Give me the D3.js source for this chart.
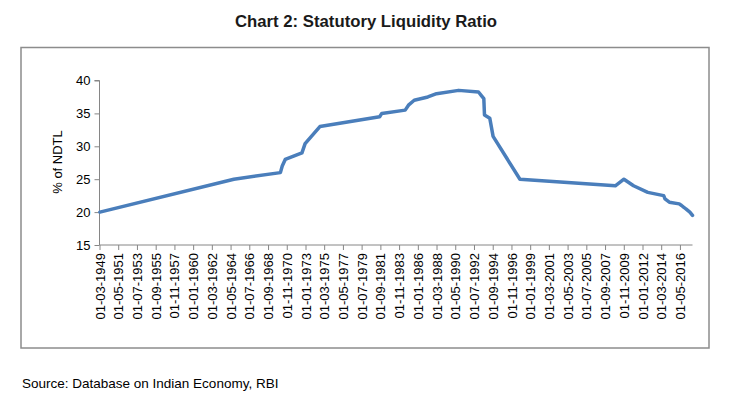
<!DOCTYPE html>
<html lang="en">
  <head>
    <meta charset="utf-8">
    <title>Chart 2: Statutory Liquidity Ratio</title>
    <style>
      body { margin: 0; background: #fff; }
      text { font-family: "Liberation Sans", Arial, sans-serif; }
    </style>
  </head>
  <body>
    <svg width="729" height="398"></svg>
    <script src="https://cdn.jsdelivr.net/npm/d3@7"></script>
    <script>
      // SLR change dates and values (% of NDTL)
      const dates = [
        '1949-03-16', '1964-09-16', '1970-02-05', '1970-04-24', '1970-08-28',
        '1972-08-04', '1972-12-15', '1974-09-01', '1981-08-01', '1981-10-30',
        '1984-07-15', '1984-12-01', '1985-08-01', '1987-03-01', '1988-03-01',
        '1990-09-22', '1993-01-09', '1993-05-01', '1993-08-21', '1993-09-18',
        '1994-05-01', '1994-09-17', '1997-10-25', '2008-11-08', '2009-11-07',
        '2010-12-18', '2012-08-11', '2014-06-14', '2014-08-09', '2015-02-07',
        '2016-04-02', '2016-07-09', '2016-10-01', '2017-01-07', '2017-06-24',
        '2017-10-14'
      ];
      const slr = [
        20, 25, 26, 27, 28,
        29, 30.4, 33, 34.5, 35,
        35.5, 36.25, 37, 37.5, 38,
        38.5, 38.25, 37.75, 37.25, 34.75,
        34.25, 31.5, 25, 24, 25,
        24, 23, 22.5, 22, 21.5,
        21.25, 21, 20.75, 20.5, 20,
        19.5
      ];
      const xTickLabels = [
        '01-03-1949', '01-05-1951', '01-07-1953', '01-09-1955', '01-11-1957',
        '01-01-1960', '01-03-1962', '01-05-1964', '01-07-1966', '01-09-1968',
        '01-11-1970', '01-01-1973', '01-03-1975', '01-05-1977', '01-07-1979',
        '01-09-1981', '01-11-1983', '01-01-1986', '01-03-1988', '01-05-1990',
        '01-07-1992', '01-09-1994', '01-11-1996', '01-01-1999', '01-03-2001',
        '01-05-2003', '01-07-2005', '01-09-2007', '01-11-2009', '01-01-2012',
        '01-03-2014', '01-05-2016'
      ];
      const yTicks = [15, 20, 25, 30, 35, 40];

      const svg = d3.select('svg');
      const axis_color = '#868686';

      const parse_iso = d3.timeParse('%Y-%m-%d');
      const parse_label = d3.timeParse('%d-%m-%Y');
      const data = dates.map((d, i) => ({date: parse_iso(d), value: slr[i]}));

      const plot = {left: 99.5, right: 692.5, top: 80.5, bottom: 245};

      const x_scale = d3.scaleTime()
        .domain([parse_label('01-03-1949'), parse_iso('2017-10-14')])
        .range([plot.left, plot.right]);

      const y_scale = d3.scaleLinear()
        .domain([15, 40])
        .range([plot.bottom, plot.top]);

      // outer frame
      svg.append('rect')
        .attr('x', 21).attr('y', 47.5)
        .attr('width', 688).attr('height', 300.5)
        .attr('fill', 'none')
        .attr('stroke', '#8c8c8c')
        .attr('stroke-width', 1.5);

      // title
      svg.append('text')
        .attr('x', 366).attr('y', 27)
        .attr('text-anchor', 'middle')
        .attr('font-size', '16.5px')
        .attr('font-weight', 'bold')
        .attr('fill', '#1a1a1a')
        .attr('textLength', 262)
        .attr('lengthAdjust', 'spacingAndGlyphs')
        .text('Chart 2: Statutory Liquidity Ratio');

      // y axis
      const yAxis = d3.axisLeft(y_scale)
        .tickValues(yTicks)
        .tickSize(5)
        .tickPadding(4)
        .tickFormat(d3.format('d'));
      const y_axis_g = svg.append('g')
        .attr('transform', `translate(${plot.left},0)`)
        .call(yAxis);
      y_axis_g.select('.domain').attr('stroke', axis_color).attr('d', `M-5,${plot.top}H0V${plot.bottom}`);
      y_axis_g.selectAll('.tick line').attr('stroke', axis_color);
      y_axis_g.selectAll('.tick text')
        .attr('font-size', '13px')
        .attr('fill', '#000')
        .style('font-family', '"Liberation Sans", Arial, sans-serif');

      // x axis
      const xAxis = d3.axisBottom(x_scale)
        .tickValues(xTickLabels.map(parse_label))
        .tickSize(5)
        .tickFormat(d3.timeFormat('%d-%m-%Y'));
      const x_axis_g = svg.append('g')
        .attr('transform', `translate(0,${plot.bottom})`)
        .call(xAxis);
      x_axis_g.select('.domain').attr('stroke', axis_color).attr('d', `M${plot.left},0H${plot.right}`);
      x_axis_g.selectAll('.tick line').attr('stroke', axis_color);
      x_axis_g.selectAll('.tick text')
        .attr('font-size', '13px')
        .attr('fill', '#000')
        .style('font-family', '"Liberation Sans", Arial, sans-serif')
        .attr('text-anchor', 'end')
        .attr('dy', '0.35em')
        .attr('transform', 'translate(0,8) rotate(-90)')
        .attr('x', 0).attr('y', 0);

      // y axis title
      svg.append('text')
        .attr('transform', 'translate(61.5,162) rotate(-90)')
        .attr('text-anchor', 'middle')
        .attr('font-size', '13px')
        .attr('fill', '#000')
        .text('% of NDTL');

      // the SLR line
      const line = d3.line()
        .x(d => x_scale(d.date))
        .y(d => y_scale(d.value));
      svg.append('path')
        .datum(data)
        .attr('d', line)
        .attr('fill', 'none')
        .attr('stroke', '#4a7ebb')
        .attr('stroke-width', 3.5)
        .attr('stroke-linejoin', 'round')
        .attr('stroke-linecap', 'round');

      // source note
      svg.append('text')
        .attr('x', 22).attr('y', 388)
        .attr('font-size', '13.5px')
        .attr('fill', '#000')
        .text('Source: Database on Indian Economy, RBI');
    </script>
  </body>
</html>
